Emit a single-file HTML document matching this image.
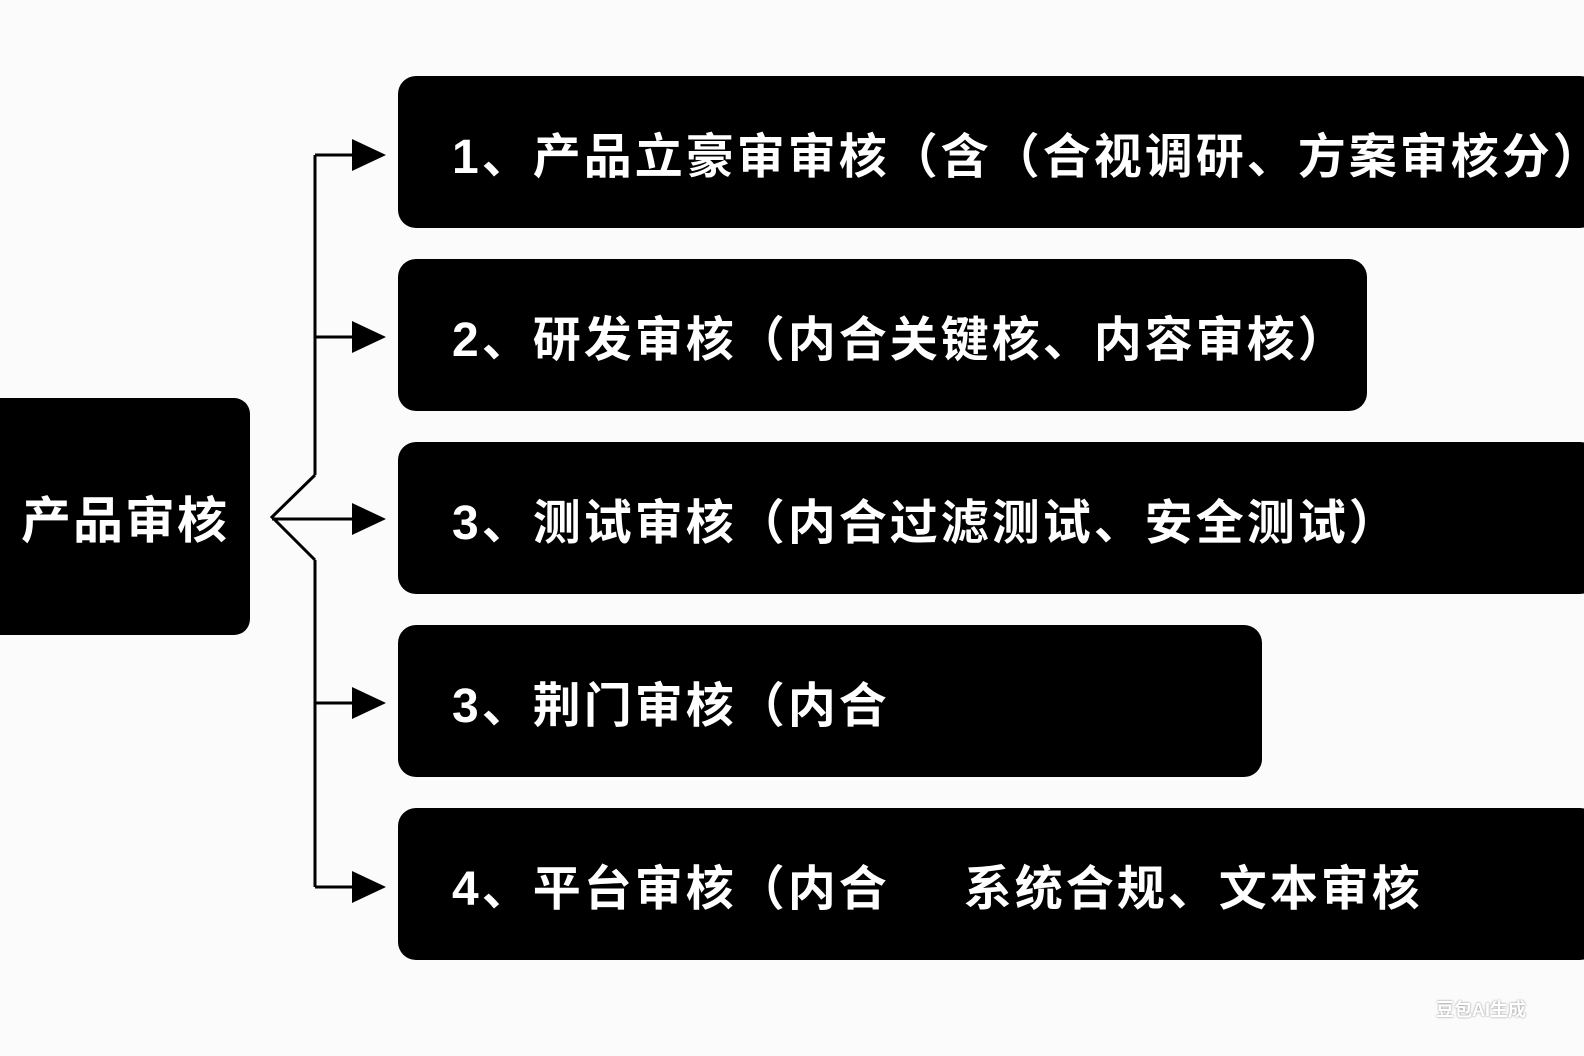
<!DOCTYPE html>
<html><head><meta charset="utf-8"><style>
html,body{margin:0;padding:0;}
body{width:1584px;height:1056px;background:#fbfbfb;position:relative;overflow:hidden;font-family:"Liberation Sans","Noto Sans CJK SC",sans-serif;}
.b{position:absolute;background:#000;border-radius:18px;color:#fff;font-size:48px;letter-spacing:3px;font-weight:bold;display:flex;align-items:center;box-sizing:border-box;white-space:nowrap;overflow:hidden;}
.r{left:398px;height:152px;padding-left:54px;}
</style></head><body>
<div class="b" style="left:0;top:398px;width:250px;height:237px;justify-content:center;border-radius:0 16px 16px 0;font-size:50px;letter-spacing:2px;">产品审核</div>
<svg width="1584" height="1056" style="position:absolute;left:0;top:0">
<g stroke="#000" stroke-width="3" fill="none">
<polyline points="315,475 272,517 315,560"/>
<line x1="315" y1="155" x2="315" y2="475"/>
<line x1="315" y1="560" x2="315" y2="887"/>
<line x1="315" y1="155" x2="360" y2="155"/>
<line x1="315" y1="337" x2="360" y2="337"/>
<line x1="272" y1="519" x2="360" y2="519"/>
<line x1="315" y1="703" x2="360" y2="703"/>
<line x1="315" y1="887" x2="360" y2="887"/>
</g>
<g fill="#000">
<polygon points="352,139 386,155 352,171"/>
<polygon points="352,321 386,337 352,353"/>
<polygon points="352,503 386,519 352,535"/>
<polygon points="352,687 386,703 352,719"/>
<polygon points="352,871 386,887 352,903"/>
</g>
</svg>
<div class="b r" style="top:76px;width:1200px;">1、产品立豪审审核（含（合视调研、方案审核分）</div>
<div class="b r" style="top:259px;width:969px;">2、研发审核（内合关键核、内容审核）</div>
<div class="b r" style="top:442px;width:1200px;">3、测试审核（内合过滤测试、安全测试）</div>
<div class="b r" style="top:625px;width:864px;">3、荆门审核（内合</div>
<div class="b r" style="top:808px;width:1200px;">4、平台审核（内合<span style="display:inline-block;width:74px"></span>系统合规、文本审核</div>
<div style="position:absolute;left:1436px;top:996px;font-size:18px;font-weight:bold;color:#fff;text-shadow:0 0 2px #888;">豆包AI生成</div>
</body></html>
